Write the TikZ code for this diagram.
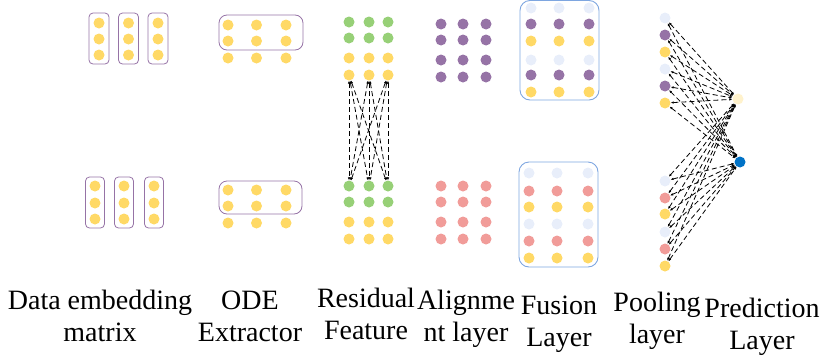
\documentclass[tikz,border=0pt]{standalone}
\usepackage{fontspec}
\setmainfont{Liberation Serif}
\usetikzlibrary{arrows.meta}
\definecolor{yel}{HTML}{FFD966}
\definecolor{grn}{HTML}{97D077}
\definecolor{pur}{HTML}{9673A6}
\definecolor{pnk}{HTML}{F19C99}
\definecolor{lblu}{HTML}{E8EEFA}
\definecolor{lyel}{HTML}{FFF2CC}
\definecolor{dblu}{HTML}{0072C6}
\definecolor{blurim}{HTML}{7EA6E0}
\tikzstyle{dot}=[circle,inner sep=0pt,minimum size=11pt]
\tikzstyle{purbox}=[draw=pur,line width=0.8pt,rounded corners=4pt]
\tikzstyle{blubox}=[draw=blurim,line width=0.9pt,rounded corners=10pt]
\tikzstyle{link}=[<->,>={Latex[length=3pt,width=2.5pt]},dash pattern=on 5pt off 3pt,line width=0.8pt]
\tikzstyle{lbl}=[anchor=base,align=center,inner sep=0pt,font=\fontsize{28}{32}\selectfont]

\begin{document}
\begin{tikzpicture}[x=1pt,y=-1pt]
    \useasboundingbox (0,0) rectangle (824,362);

    % Data embedding matrix
    \foreach \i/\x in {1/99,2/128.5,3/158} {
        \draw[purbox] (\x-10,13) rectangle (\x+10,64);
        \foreach \j/\y in {1/23,2/39,3/55}
            \node[dot,fill=yel] (da\i\j) at (\x,\y) {};
    }
    \foreach \i/\x in {1/95,2/124,3/154} {
        \draw[purbox] (\x-9.5,177) rectangle (\x+9.5,228);
        \foreach \j/\y in {1/186,2/203,3/219}
            \node[dot,fill=yel] (db\i\j) at (\x,\y) {};
    }

    % ODE extractor
    \draw[purbox,rounded corners=8pt] (219,15) rectangle (303,50);
    \draw[purbox,rounded corners=8pt] (219,181) rectangle (302,214);
    \foreach \i/\x in {1/228,2/256.5,3/286} {
        \foreach \j/\y in {1/25,2/41,3/58}
            \node[dot,fill=yel] (oa\i\j) at (\x,\y) {};
        \foreach \j/\y in {1/190,2/206,3/223}
            \node[dot,fill=yel] (ob\i\j) at (\x,\y) {};
    }

    % Residual feature
    \foreach \i/\x in {1/349,2/369,3/388} {
        \foreach \j/\y/\c in {1/22/grn,2/38/grn,3/58/yel,4/75/yel}
            \node[dot,fill=\c] (ra\i\j) at (\x,\y) {};
        \foreach \j/\y/\c in {1/186/grn,2/202/grn,3/222/yel,4/239/yel}
            \node[dot,fill=\c] (rb\i\j) at (\x,\y) {};
    }
    \foreach \i in {1,2,3}
        \foreach \k in {1,2,3}
            \draw[link] (ra\i4) -- (rb\k1);

    % Alignment layer
    \foreach \i/\x in {1/441,2/463,3/486} {
        \foreach \j/\y in {1/24,2/40,3/60,4/77}
            \node[dot,fill=pur] (aa\i\j) at (\x,\y) {};
        \foreach \j/\y in {1/186,2/202,3/222,4/239}
            \node[dot,fill=pnk] (ab\i\j) at (\x,\y) {};
    }

    % Fusion layer
    \draw[blubox] (520,0.5) rectangle (599,100);
    \draw[blubox] (519,162) rectangle (598,267);
    \foreach \i/\x in {1/531,2/559,3/589}
        \foreach \j/\y/\c in {1/8/lblu,2/24/pur,3/41/yel,4/60/lblu,5/75/pur,6/92/yel}
            \node[dot,fill=\c] (fa\i\j) at (\x,\y) {};
    \foreach \i/\x in {1/529,2/557,3/588}
        \foreach \j/\y/\c in {1/173/lblu,2/191/pnk,3/207/yel,4/224/lblu,5/241/pnk,6/258/yel}
            \node[dot,fill=\c] (fb\i\j) at (\x,\y) {};

    % Pooling and prediction
    \node[dot,fill=lyel] (top) at (738,99) {};
    \node[dot,fill=dblu] (bot) at (740,162) {};
    \foreach \j/\y/\c in {1/18/lblu,2/35/pur,3/52/yel,4/69/lblu,5/86/pur,6/103/yel}
        \node[dot,fill=\c] (pa\j) at (665,\y) {};
    \foreach \j/\y/\c in {1/181/lblu,2/198/pnk,3/214/yel,4/232/lblu,5/249/pnk,6/266/yel}
        \node[dot,fill=\c] (pb\j) at (665,\y) {};
    \foreach \j in {1,...,6} {
        \draw[link] (pa\j) -- (top);
        \draw[link] (pa\j) -- (bot);
        \draw[link] (pb\j) -- (top);
        \draw[link] (pb\j) -- (bot);
    }

    % Labels
    \node[lbl] (l1) at (100,341) {Data embedding\\matrix};
    \node[lbl] (l2) at (250,341) {ODE\\Extractor};
    \node[lbl] (l3) at (366,339) {Residual\\Feature};
    \node[lbl] (l4) at (466,341) {Alignme\\nt layer};
    \node[lbl] (l5) at (559,346) {Fusion\\Layer};
    \node[lbl] (l6) at (657,343) {Pooling\\layer};
    \node[lbl] (l7) at (762,349) {Prediction\\Layer};
\end{tikzpicture}
\end{document}
